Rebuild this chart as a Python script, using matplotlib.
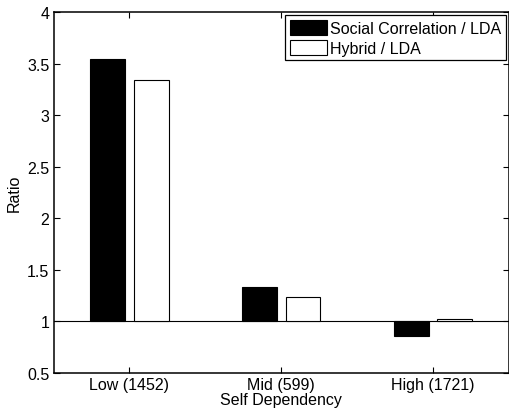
import numpy as np
import matplotlib
matplotlib.use("Agg")
import matplotlib.pyplot as plt

# data
categories = ["Low (1452)", "Mid (599)", "High (1721)"]
social_lda = [3.54, 1.335, 0.855]
hybrid_lda = [3.345, 1.235, 1.027]
series_names = ["Social Correlation / LDA", "Hybrid / LDA"]

plt.rcParams['font.family'] = ['Liberation Sans', 'DejaVu Sans']
plt.rcParams['font.size'] = 11.5

fig = plt.figure(figsize=(5.10, 4.14), dpi=100)
ax = fig.add_axes([0.105, 0.0966, 0.893, 0.872])

x = np.arange(1, len(categories) + 1)
width = 0.229
offset = 0.143
base = 1.0

ax.bar(x - offset, np.array(social_lda) - base, width, bottom=base,
       color="black", edgecolor="black", linewidth=0.8, label=series_names[0])
ax.bar(x + offset, np.array(hybrid_lda) - base, width, bottom=base,
       color="white", edgecolor="black", linewidth=0.8, label=series_names[1])
ax.axhline(base, color="black", linewidth=0.8, zorder=0.5)

ax.set_xlim(0.5, 3.5)
ax.set_ylim(0.5, 4)
ax.set_xticks(x)
ax.set_xticklabels(categories)
yt = np.arange(0.5, 4.01, 0.5)
ax.set_yticks(yt)
ax.set_yticklabels([f"{v:g}" for v in yt])
ax.tick_params(direction="in", top=True, right=True, length=4, width=0.8,
               labelsize=11.5, pad=3)
for s in ax.spines.values():
    s.set_linewidth(1.1)

ax.set_xlabel("Self Dependency", labelpad=0)
ax.set_ylabel("Ratio", labelpad=4)

leg = ax.legend(loc="upper right", borderaxespad=0.2, fancybox=False,
                edgecolor="black", framealpha=1, handlelength=2.3,
                handleheight=1.05, handletextpad=0.2, borderpad=0.3,
                labelspacing=0.25, fontsize=11.5)
leg.get_frame().set_linewidth(0.9)

fig.savefig("out.png", dpi=100)
